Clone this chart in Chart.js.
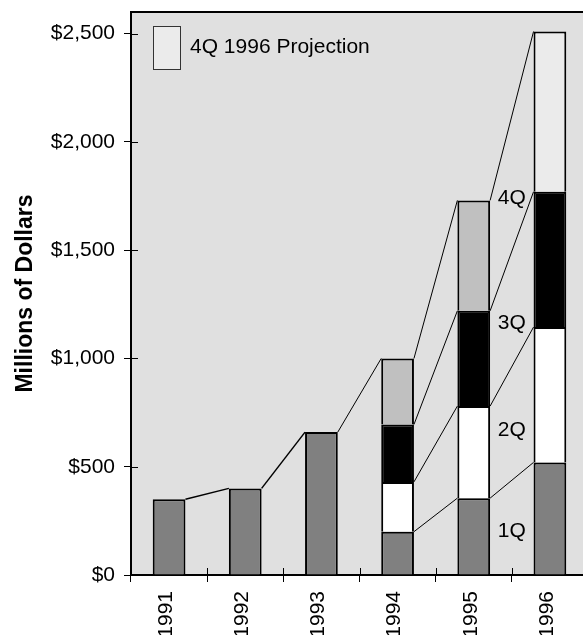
<!DOCTYPE html>
<html>
<head>
<meta charset="utf-8">
<script src="https://cdn.jsdelivr.net/npm/chart.js@4/dist/chart.umd.min.js"></script>
<style>
  html, body { margin: 0; padding: 0; background: #fff; overflow: hidden; }
  #wrap { width: 590px; height: 635px; }
</style>
</head>
<body>
<div id="wrap"><canvas id="c" width="590" height="635"></canvas></div>
<script>
// Revenue, millions of dollars
const years = ['1991', '1992', '1993', '1994', '1995', '1996'];
const annualRevenue = [350, 400, 660, null, null, null];
const q1 = [null, null, null, 200, 355, 520];
const q2 = [null, null, null, 230, 425, 625];
const q3 = [null, null, null, 265, 440, 625];
const q4 = [null, null, null, 305, 510, null];
const q4Projection = [null, null, null, null, null, 740];

// quarter captions placed between the 1995 and 1996 columns
const quarterNames = ['1Q', '2Q', '3Q', '4Q'];
const quarterLabelValues = [200, 670, 1165, 1740];

const yTicks = [0, 500, 1000, 1500, 2000, 2500];
const yMax = 2600;

const FONT = "'Liberation Sans', Arial, Helvetica, sans-serif";
Chart.defaults.font.family = FONT;
Chart.defaults.color = '#000';

const fmtDollars = v => '$' + String(v).replace(/\B(?=(\d{3})+(?!\d))/g, ',');

const barSet = (label, data, color) => ({
  label, data,
  backgroundColor: color,
  borderColor: '#000',
  borderWidth: 2,
  borderSkipped: 'start',
  categoryPercentage: 1,
  barPercentage: 0.43
});

// grey plot area with a heavy top edge
const plotBackground = {
  id: 'plotBackground',
  beforeDraw(chart) {
    const { ctx, chartArea: a } = chart;
    ctx.save();
    ctx.fillStyle = '#e0e0e0';
    ctx.fillRect(a.left, a.top, a.right - a.left, a.bottom - a.top);
    ctx.strokeStyle = '#000';
    ctx.lineWidth = 2;
    ctx.beginPath();
    ctx.moveTo(a.left - 1, a.top);
    ctx.lineTo(chart.width, a.top);
    ctx.stroke();
    ctx.restore();
  }
};

// thin lines joining the tops of matching levels of neighbouring columns
const connectors = {
  id: 'connectors',
  afterDatasetsDraw(chart) {
    const { ctx } = chart;
    const n = chart.data.labels.length;
    const levels = [];
    for (let j = 0; j < n; j++) {
      const tops = [];
      chart.data.datasets.forEach((d, i) => {
        if (d.data[j] == null) return;
        const el = chart.getDatasetMeta(i).data[j];
        tops.push({ y: el.y, left: el.x - el.width / 2, right: el.x + el.width / 2 });
      });
      levels.push(tops);
    }
    ctx.save();
    ctx.strokeStyle = '#000';
    for (let j = 0; j < n - 1; j++) {
      const a = levels[j], b = levels[j + 1];
      const pairs = a.length === b.length
        ? a.map((p, k) => [p, b[k]])
        : [[a[a.length - 1], b[b.length - 1]]];
      ctx.lineWidth = (a.length === 1 && b.length === 1) ? 1.5 : 1;
      pairs.forEach(([p, q]) => {
        ctx.beginPath();
        ctx.moveTo(p.right, p.y);
        ctx.lineTo(q.left, q.y);
        ctx.stroke();
      });
    }
    ctx.restore();
  }
};

// quarter captions, projection key, and the inner halves of the tick marks
const annotations = {
  id: 'annotations',
  afterDraw(chart) {
    const { ctx, chartArea: a, scales: { x, y } } = chart;
    ctx.save();
    ctx.fillStyle = '#000';
    ctx.font = '21px ' + FONT;
    ctx.textAlign = 'center';
    ctx.textBaseline = 'middle';
    const qx = (x.getPixelForValue(4) + x.getPixelForValue(5)) / 2;
    quarterNames.forEach((t, k) => {
      ctx.fillText(t, qx, y.getPixelForValue(quarterLabelValues[k]));
    });

    const proj = chart.data.datasets[chart.data.datasets.length - 1];
    ctx.fillStyle = proj.backgroundColor;
    ctx.strokeStyle = '#333';
    ctx.lineWidth = 1;
    const bx = Math.round(a.left + 22) + 0.5, by = 26.5;
    ctx.fillRect(bx, by, 27, 43);
    ctx.strokeRect(bx, by, 27, 43);
    ctx.fillStyle = '#000';
    ctx.textAlign = 'left';
    ctx.fillText(proj.label, a.left + 59, 47);

    ctx.strokeStyle = '#000';
    ctx.lineWidth = 1;
    y.ticks.forEach(t => {
      const py = Math.round(y.getPixelForValue(t.value)) + 0.5;
      ctx.beginPath();
      ctx.moveTo(a.left, py);
      ctx.lineTo(a.left + 7, py);
      ctx.stroke();
    });
    for (let k = 1; k < years.length; k++) {
      const px = Math.round((x.getPixelForValue(k - 1) + x.getPixelForValue(k)) / 2) + 0.5;
      ctx.beginPath();
      ctx.moveTo(px, a.bottom);
      ctx.lineTo(px, a.bottom - 7);
      ctx.stroke();
    }
    ctx.restore();
  }
};

new Chart(document.getElementById('c'), {
  type: 'bar',
  data: {
    labels: years,
    datasets: [
      barSet('Annual', annualRevenue, '#808080'),
      barSet('1Q', q1, '#808080'),
      barSet('2Q', q2, '#ffffff'),
      barSet('3Q', q3, '#000000'),
      barSet('4Q', q4, '#c0c0c0'),
      barSet('4Q 1996 Projection', q4Projection, '#ebebeb')
    ]
  },
  options: {
    responsive: false,
    animation: false,
    layout: { padding: { top: 12, right: 2, left: 0, bottom: 0 } },
    plugins: { legend: { display: false }, tooltip: { enabled: false } },
    scales: {
      x: {
        stacked: true,
        grid: { drawOnChartArea: false, tickLength: 7, color: '#000', lineWidth: 1, offset: true },
        border: { color: '#000', width: 2 },
        ticks: { minRotation: 90, maxRotation: 90, padding: 9, labelOffset: -3, font: { size: 21 } },
        afterFit(s) { s.height = 60; s.paddingLeft = 0; s.paddingRight = 0; }
      },
      y: {
        stacked: true,
        min: 0,
        max: yMax,
        afterBuildTicks(s) { s.ticks = yTicks.map(v => ({ value: v })); },
        grid: { drawOnChartArea: false, tickLength: 7, color: '#000', lineWidth: 1 },
        border: { color: '#000', width: 2 },
        ticks: { padding: 9, font: { size: 21 }, callback: v => fmtDollars(v) },
        title: {
          display: true,
          text: 'Millions of Dollars',
          font: { size: 23, weight: 'bold' },
          padding: { top: 12, bottom: 0 }
        },
        afterFit(s) { s.width = 131; s.paddingTop = 0; s.paddingBottom = 0; }
      }
    }
  },
  plugins: [plotBackground, connectors, annotations]
});
</script>
</body>
</html>
